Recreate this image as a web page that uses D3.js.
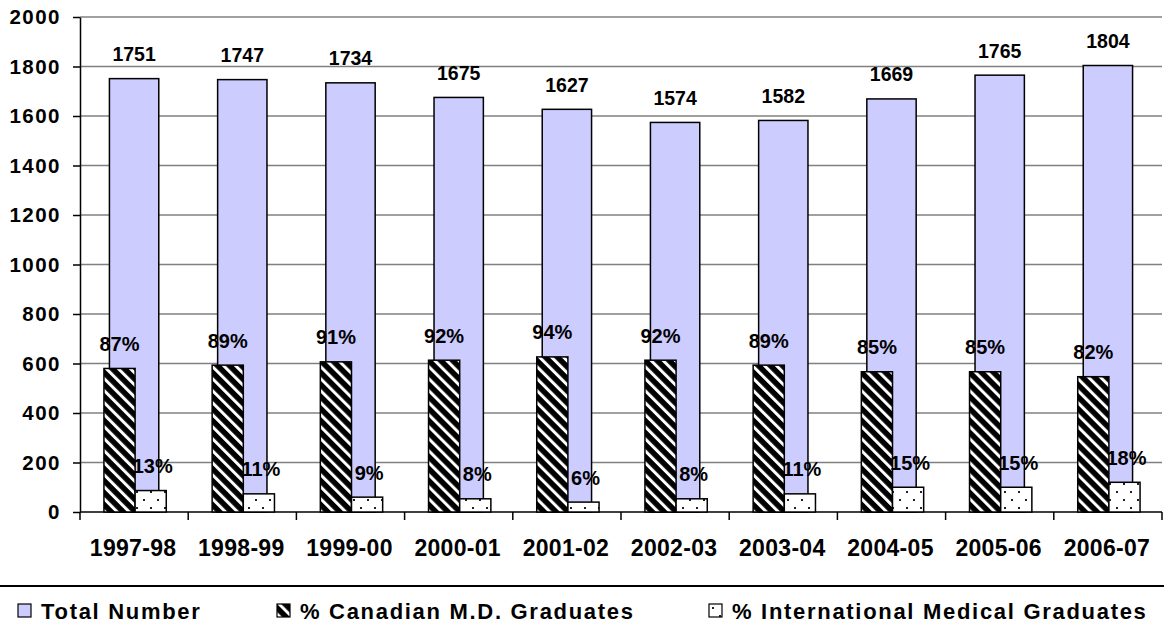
<!DOCTYPE html>
<html>
<head>
<meta charset="utf-8">
<script src="https://d3js.org/d3.v7.min.js"></script>
<style>
  body { margin: 0; background: #fff; }
  svg { display: block; font-family: "Liberation Sans", Arial, sans-serif; font-weight: bold; }
</style>
</head>
<body>
<svg id="chart" width="1164" height="631"></svg>
<script>
// data
const years = ["1997-98", "1998-99", "1999-00", "2000-01", "2001-02",
               "2002-03", "2003-04", "2004-05", "2005-06", "2006-07"]
const totalNumber = [1751, 1747, 1734, 1675, 1627, 1574, 1582, 1669, 1765, 1804]
const pctCanadian = [87, 89, 91, 92, 94, 92, 89, 85, 85, 82]
const pctInternational = [13, 11, 9, 8, 6, 8, 11, 15, 15, 18]
const yTicks = [0, 200, 400, 600, 800, 1000, 1200, 1400, 1600, 1800, 2000]
const legendLabels = ["Total Number", "% Canadian M.D. Graduates", "% International Medical Graduates"]

const svg = d3.select("#chart")
const plotLeft = 80, plotRight = 1162, plotTop = 17, plotBottom = 512

const x = d3.scaleBand().domain(years).range([plotLeft, plotRight]).padding(0)
const y = d3.scaleLinear().domain([0, 2000]).range([plotBottom, plotTop])
// percentages sit on a hidden secondary axis 0..300%
const yPct = d3.scaleLinear().domain([0, 300]).range([plotBottom, plotTop])
const bw = x.bandwidth()

// patterns
const defs = svg.append("defs")
const hatch = defs.append("pattern")
    .attr("id", "hatch")
    .attr("patternUnits", "userSpaceOnUse")
    .attr("width", 8.5).attr("height", 8.5)
    .attr("patternTransform", "rotate(-45)")
hatch.append("rect").attr("width", 8.5).attr("height", 8.5).attr("fill", "#000")
hatch.append("rect").attr("x", 0).attr("width", 3).attr("height", 8.5).attr("fill", "#fff")

const dots = defs.append("pattern")
    .attr("id", "dots")
    .attr("patternUnits", "userSpaceOnUse")
    .attr("width", 14).attr("height", 16)
dots.append("rect").attr("width", 14).attr("height", 16).attr("fill", "#fff")
dots.append("rect").attr("x", 3).attr("y", 3).attr("width", 2).attr("height", 2).attr("fill", "#222")
dots.append("rect").attr("x", 10).attr("y", 11).attr("width", 2).attr("height", 2).attr("fill", "#222")

// gridlines
svg.append("g")
    .selectAll("line").data(yTicks.filter(d => d > 0)).enter().append("line")
    .attr("x1", plotLeft).attr("x2", plotRight)
    .attr("y1", d => y(d)).attr("y2", d => y(d))
    .attr("stroke", "#808080").attr("stroke-width", 1.5)

// y axis
const yAxis = svg.append("g")
    .attr("transform", `translate(${plotLeft},0)`)
    .call(d3.axisLeft(y).tickValues(yTicks).tickFormat(d3.format("d"))
        .tickSize(7).tickPadding(14).tickSizeOuter(0))
yAxis.select(".domain").attr("stroke", "#000").attr("stroke-width", 1.5)
yAxis.selectAll(".tick line").attr("stroke", "#000").attr("stroke-width", 1.5)
yAxis.selectAll("text")
    .attr("font-size", 20.5).attr("font-weight", "bold").attr("fill", "#000")
    .attr("font-family", "Liberation Sans, Arial, sans-serif")
    .style("letter-spacing", "1.5px")
    .attr("dx", 2)

// x axis
const xAxis = svg.append("g")
    .attr("transform", `translate(0,${plotBottom})`)
xAxis.append("line").attr("x1", plotLeft).attr("x2", plotRight).attr("stroke", "#000").attr("stroke-width", 1.5)
xAxis.selectAll(".tk").data(d3.range(years.length + 1)).enter().append("line")
    .attr("x1", i => plotLeft + i * bw).attr("x2", i => plotLeft + i * bw)
    .attr("y1", 0).attr("y2", 8)
    .attr("stroke", "#000").attr("stroke-width", 1.5)
xAxis.selectAll("text").data(years).enter().append("text")
    .attr("x", d => x(d) + bw / 2 - 1)
    .attr("y", 44)
    .attr("text-anchor", "middle")
    .attr("font-size", 23)
    .style("letter-spacing", "0.3px")
    .text(d => d)

// total bars (behind)
const totalX = d => x(d) + bw / 2 - bw * 0.228
svg.append("g").selectAll("rect").data(years).enter().append("rect")
    .attr("x", totalX)
    .attr("width", bw * 0.456)
    .attr("y", (d, i) => y(totalNumber[i]))
    .attr("height", (d, i) => plotBottom - y(totalNumber[i]))
    .attr("fill", "#ccccff").attr("stroke", "#000").attr("stroke-width", 1.5)

// percentage bars
const subW = bw * 0.288
const canX = d => x(d) + bw / 2 - subW + 1
const intX = d => x(d) + bw / 2 + 1
svg.append("g").selectAll("rect").data(years).enter().append("rect")
    .attr("x", canX).attr("width", subW)
    .attr("y", (d, i) => yPct(pctCanadian[i]))
    .attr("height", (d, i) => plotBottom - yPct(pctCanadian[i]))
    .attr("fill", "url(#hatch)").attr("stroke", "#000").attr("stroke-width", 1.5)
svg.append("g").selectAll("rect").data(years).enter().append("rect")
    .attr("x", intX).attr("width", subW)
    .attr("y", (d, i) => yPct(pctInternational[i]))
    .attr("height", (d, i) => plotBottom - yPct(pctInternational[i]))
    .attr("fill", "url(#dots)").attr("stroke", "#000").attr("stroke-width", 1.5)

// value labels
const labels = svg.append("g").attr("text-anchor", "middle")
labels.selectAll(".tot").data(years).enter().append("text")
    .attr("font-size", 19.5)
    .attr("x", d => totalX(d) + bw * 0.228)
    .attr("y", (d, i) => y(totalNumber[i]) - 17.5)
    .text((d, i) => totalNumber[i])
labels.selectAll(".can").data(years).enter().append("text")
    .attr("font-size", 20)
    .attr("x", d => canX(d) + subW / 2)
    .attr("y", (d, i) => yPct(pctCanadian[i]) - 17.5)
    .text((d, i) => pctCanadian[i] + "%")
labels.selectAll(".int").data(years).enter().append("text")
    .attr("font-size", 20)
    .attr("x", d => intX(d) + subW / 2 + 2)
    .attr("y", (d, i) => yPct(pctInternational[i]) - 17.5)
    .text((d, i) => pctInternational[i] + "%")

// legend
svg.append("line").attr("x1", 0).attr("x2", 1164).attr("y1", 586).attr("y2", 586)
    .attr("stroke", "#000").attr("stroke-width", 2)
const legendFill = ["#ccccff", "url(#hatch)", "url(#dots)"]
const legendX = [18, 277, 709]
const lg = svg.append("g").selectAll("g").data(legendLabels).enter().append("g")
    .attr("transform", (d, i) => `translate(${legendX[i]},604)`)
lg.append("rect").attr("width", 13).attr("height", 13)
    .attr("fill", (d, i) => legendFill[i]).attr("stroke", "#000").attr("stroke-width", 1.2)
lg.append("text").attr("x", 23).attr("y", 14.5)
    .attr("font-size", 22).style("letter-spacing", "1.7px")
    .text(d => d)
</script>
</body>
</html>
